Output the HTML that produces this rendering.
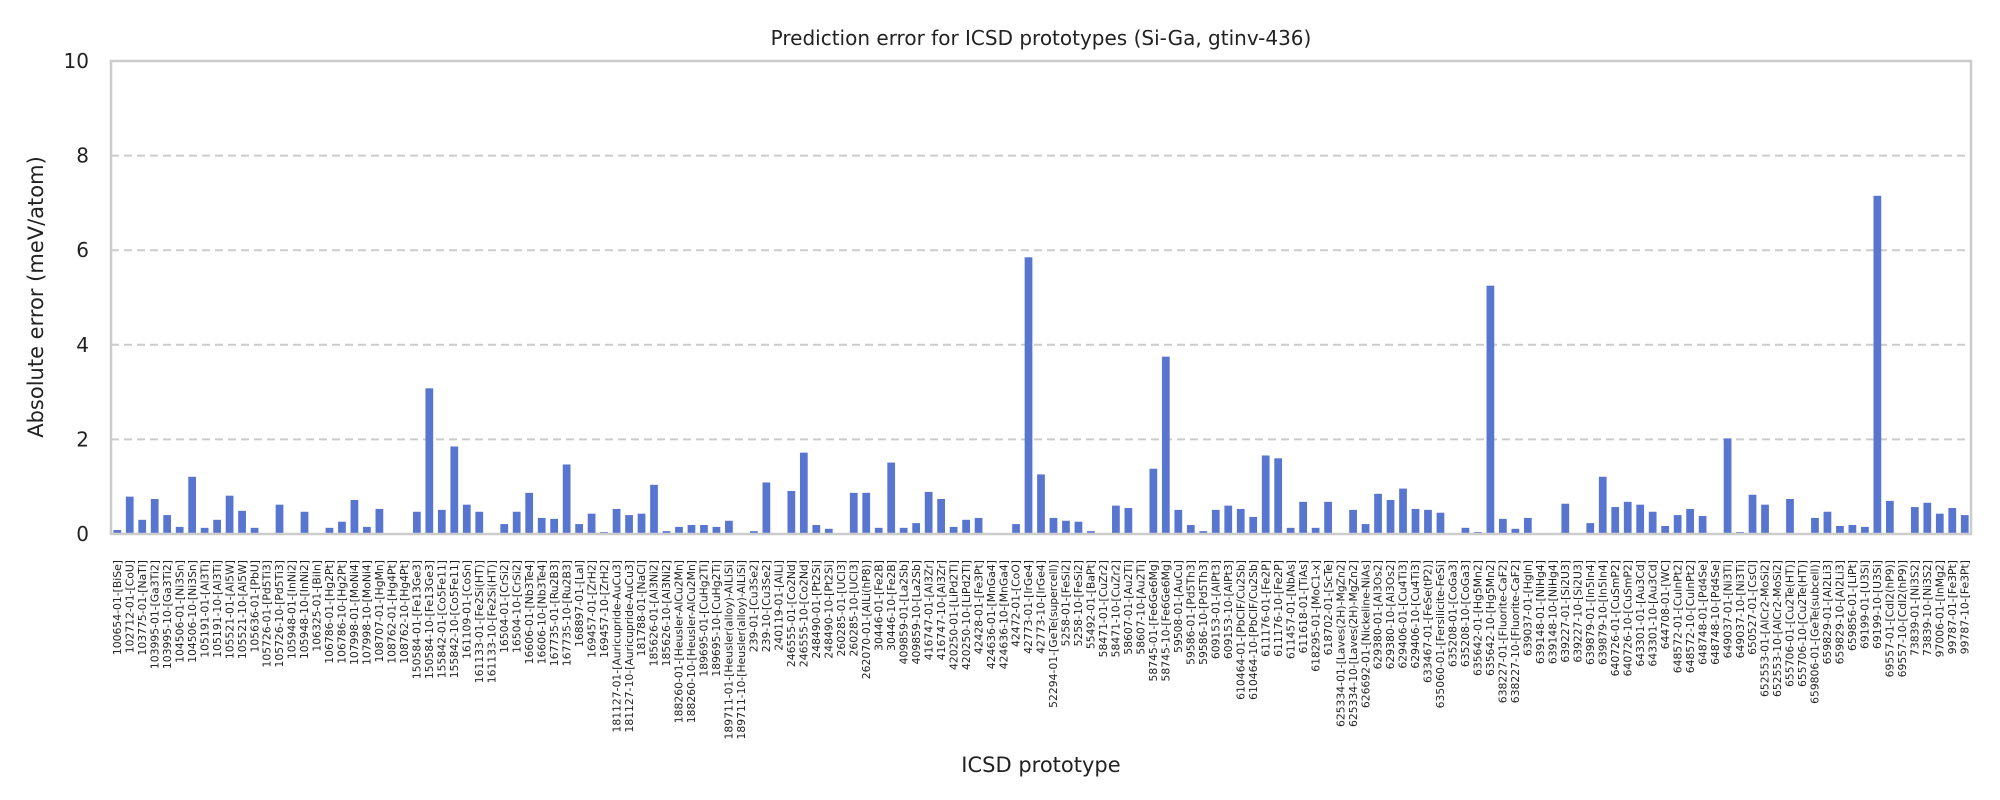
<!DOCTYPE html>
<html><head><meta charset="utf-8"><style>
html,body{margin:0;padding:0;background:#fff;}
svg{display:block;font-family:"DejaVu Sans","Liberation Sans",sans-serif;}
</style></head><body>
<svg id="chart" width="2000" height="800" viewBox="0 0 2000 800" xmlns="http://www.w3.org/2000/svg">
<rect width="2000" height="800" fill="#fff"/>
<text x="1041" y="45" font-size="20" text-anchor="middle" fill="#222">Prediction error for ICSD prototypes (Si-Ga, gtinv-436)</text>
<g id="grid"></g>
<g id="bars"></g>
<g id="yticks"></g>
<g id="xticks"></g>
<rect x="111" y="61" width="1860" height="473" fill="none" stroke="#cccccc" stroke-width="2.5"/>
<text transform="translate(43,297) rotate(-90)" font-size="21" text-anchor="middle" fill="#222">Absolute error (meV/atom)</text>
<text x="1041" y="772" font-size="21" text-anchor="middle" fill="#222">ICSD prototype</text>
</svg>
<script>
const categories = ["100654-01-[BiSe]","102712-01-[CoU]","103775-01-[NaTl]","103995-01-[Ga3Ti2]","103995-10-[Ga3Ti2]","104506-01-[Ni3Sn]","104506-10-[Ni3Sn]","105191-01-[Al3Ti]","105191-10-[Al3Ti]","105521-01-[Al5W]","105521-10-[Al5W]","105636-01-[PbU]","105726-01-[Pd5Ti3]","105726-10-[Pd5Ti3]","105948-01-[InNi2]","105948-10-[InNi2]","106325-01-[BiIn]","106786-01-[Hg2Pt]","106786-10-[Hg2Pt]","107998-01-[MoNi4]","107998-10-[MoNi4]","108707-01-[HgMn]","108762-01-[Hg4Pt]","108762-10-[Hg4Pt]","150584-01-[Fe13Ge3]",
"150584-10-[Fe13Ge3]","155842-01-[Co5Fe11]","155842-10-[Co5Fe11]","161109-01-[CoSn]","161133-01-[Fe2Si(HT)]","161133-10-[Fe2Si(HT)]","16504-01-[CrSi2]","16504-10-[CrSi2]","16606-01-[Nb3Te4]","16606-10-[Nb3Te4]","167735-01-[Ru2B3]","167735-10-[Ru2B3]","168897-01-[LaI]","169457-01-[ZrH2]","169457-10-[ZrH2]","181127-01-[Auricupride-AuCu3]","181127-10-[Auricupride-AuCu3]","181788-01-[NaCl]","185626-01-[Al3Ni2]","185626-10-[Al3Ni2]","188260-01-[Heusler-AlCu2Mn]","188260-10-[Heusler-AlCu2Mn]","189695-01-[CuHg2Ti]","189695-10-[CuHg2Ti]","189711-01-[Heusler(alloy)-AlLiSi]",
"189711-10-[Heusler(alloy)-AlLiSi]","239-01-[Cu3Se2]","239-10-[Cu3Se2]","240119-01-[AlLi]","246555-01-[Co2Nd]","246555-10-[Co2Nd]","248490-01-[Pt2Si]","248490-10-[Pt2Si]","260285-01-[UCl3]","260285-10-[UCl3]","262070-01-[AlLi(hP8)]","30446-01-[Fe2B]","30446-10-[Fe2B]","409859-01-[La2Sb]","409859-10-[La2Sb]","416747-01-[Al3Zr]","416747-10-[Al3Zr]","420250-01-[LiPd2Tl]","420250-10-[LiPd2Tl]","42428-01-[Fe3Pt]","424636-01-[MnGa4]","424636-10-[MnGa4]","42472-01-[CoO]","42773-01-[IrGe4]","42773-10-[IrGe4]","52294-01-[GeTe(supercell)]",
"5258-01-[FeSi2]","5258-10-[FeSi2]","55492-01-[BaPt]","58471-01-[CuZr2]","58471-10-[CuZr2]","58607-01-[Au2Ti]","58607-10-[Au2Ti]","58745-01-[Fe6Ge6Mg]","58745-10-[Fe6Ge6Mg]","59508-01-[AuCu]","59586-01-[Pd5Th3]","59586-10-[Pd5Th3]","609153-01-[AlPt3]","609153-10-[AlPt3]","610464-01-[PbClF/Cu2Sb]","610464-10-[PbClF/Cu2Sb]","611176-01-[Fe2P]","611176-10-[Fe2P]","611457-01-[NbAs]","611618-01-[TiAs]","618295-01-[MoC1-x]","618702-01-[ScTe]","625334-01-[Laves(2H)-MgZn2]","625334-10-[Laves(2H)-MgZn2]","626692-01-[Nickeline-NiAs]",
"629380-01-[Al3Os2]","629380-10-[Al3Os2]","629406-01-[Cu4Ti3]","629406-10-[Cu4Ti3]","633467-01-[FeSe(tP2)]","635060-01-[Fersilicite-FeSi]","635208-01-[CoGa3]","635208-10-[CoGa3]","635642-01-[Hg5Mn2]","635642-10-[Hg5Mn2]","638227-01-[Fluorite-CaF2]","638227-10-[Fluorite-CaF2]","639037-01-[HgIn]","639148-01-[NiHg4]","639148-10-[NiHg4]","639227-01-[Si2U3]","639227-10-[Si2U3]","639879-01-[In5In4]","639879-10-[In5In4]","640726-01-[CuSmP2]","640726-10-[CuSmP2]","643301-01-[Au3Cd]","643301-10-[Au3Cd]","644708-01-[WC]","648572-01-[CuInPt2]",
"648572-10-[CuInPt2]","648748-01-[Pd4Se]","648748-10-[Pd4Se]","649037-01-[Ni3Ti]","649037-10-[Ni3Ti]","650527-01-[CsCl]","652553-01-[AlCr2-MoSi2]","652553-10-[AlCr2-MoSi2]","655706-01-[Cu2Te(HT)]","655706-10-[Cu2Te(HT)]","659806-01-[GeTe(subcell)]","659829-01-[Al2Li3]","659829-10-[Al2Li3]","659856-01-[LiPt]","69199-01-[U3Si]","69199-10-[U3Si]","69557-01-[CdI2(hP9)]","69557-10-[CdI2(hP9)]","73839-01-[Ni3S2]","73839-10-[Ni3S2]","97006-01-[InMg2]","99787-01-[Fe3Pt]","99787-10-[Fe3Pt]"];
const errors = [0.085,0.79,0.30,0.74,0.40,0.15,1.21,0.13,0.30,0.81,0.49,0.13,0.0,0.62,0.0,0.47,0.0,0.13,0.26,0.72,0.15,0.53,0.02,0.0,0.47,
3.08,0.51,1.85,0.62,0.47,0.0,0.21,0.47,0.87,0.34,0.32,1.47,0.21,0.43,0.04,0.53,0.40,0.43,1.04,0.06,0.15,0.19,0.19,0.15,0.28,
0.0,0.06,1.09,0.0,0.91,1.72,0.19,0.11,0.0,0.87,0.87,0.13,1.51,0.13,0.23,0.89,0.74,0.15,0.30,0.34,0.02,0.0,0.21,5.85,1.26,0.34,
0.28,0.26,0.06,0.0,0.60,0.55,0.0,1.38,3.75,0.51,0.19,0.06,0.51,0.60,0.53,0.36,1.66,1.60,0.13,0.68,0.13,0.68,0.0,0.51,0.21,
0.85,0.72,0.96,0.53,0.51,0.45,0.02,0.13,0.04,5.25,0.32,0.11,0.34,0.02,0.0,0.64,0.0,0.23,1.21,0.57,0.68,0.62,0.47,0.17,0.40,
0.53,0.38,0.0,2.02,0.04,0.83,0.62,0.0,0.74,0.0,0.34,0.47,0.17,0.19,0.15,7.15,0.70,0.02,0.57,0.66,0.43,0.55,0.40];
const yTicks = [0,2,4,6,8,10];
const gridTicks = [2,4,6,8];

const NS = "http://www.w3.org/2000/svg";
const X0 = 111, X1 = 1971, Y0 = 534, Y1 = 61, YMAX = 10;
const band = (X1 - X0) / categories.length;
function xCenter(i){ return X0 + band * (i + 0.5); }
function yScale(v){ return Y0 - (v / YMAX) * (Y0 - Y1); }

const grid = document.getElementById('grid');
gridTicks.forEach(t => {
  const l = document.createElementNS(NS,'line');
  l.setAttribute('x1', X0); l.setAttribute('x2', X1);
  l.setAttribute('y1', yScale(t)); l.setAttribute('y2', yScale(t));
  l.setAttribute('stroke','#cccccc'); l.setAttribute('stroke-width','2');
  l.setAttribute('stroke-dasharray','8,5');
  
  
  grid.appendChild(l);
});

const yt = document.getElementById('yticks');
yTicks.forEach(t => {
  const tx = document.createElementNS(NS,'text');
  tx.setAttribute('x', 89); tx.setAttribute('y', yScale(t) + 7);
  tx.setAttribute('font-size','20'); tx.setAttribute('text-anchor','end'); tx.setAttribute('fill','#222');
  tx.textContent = t;
  
  
  yt.appendChild(tx);
});

const bars = document.getElementById('bars');
const xt = document.getElementById('xticks');
const bw = band * 0.62;
categories.forEach((c, i) => {
  const v = errors[i];
  const r = document.createElementNS(NS,'rect');
  r.setAttribute('x', xCenter(i) - bw/2);
  r.setAttribute('y', yScale(v));
  r.setAttribute('width', bw);
  r.setAttribute('height', Math.max(0, Y0 - yScale(v)));
  r.setAttribute('fill', '#5875d0');
  
  
  bars.appendChild(r);

  const tx = document.createElementNS(NS,'text');
  const xc = xCenter(i) + 3.7;
  tx.setAttribute('transform', 'translate(' + xc + ',560) rotate(-90)');
  tx.setAttribute('font-size','10.8');
  tx.setAttribute('text-anchor','end');
  tx.setAttribute('fill','#222');
  tx.textContent = c;
  
  
  xt.appendChild(tx);
});
</script>
</body></html>
